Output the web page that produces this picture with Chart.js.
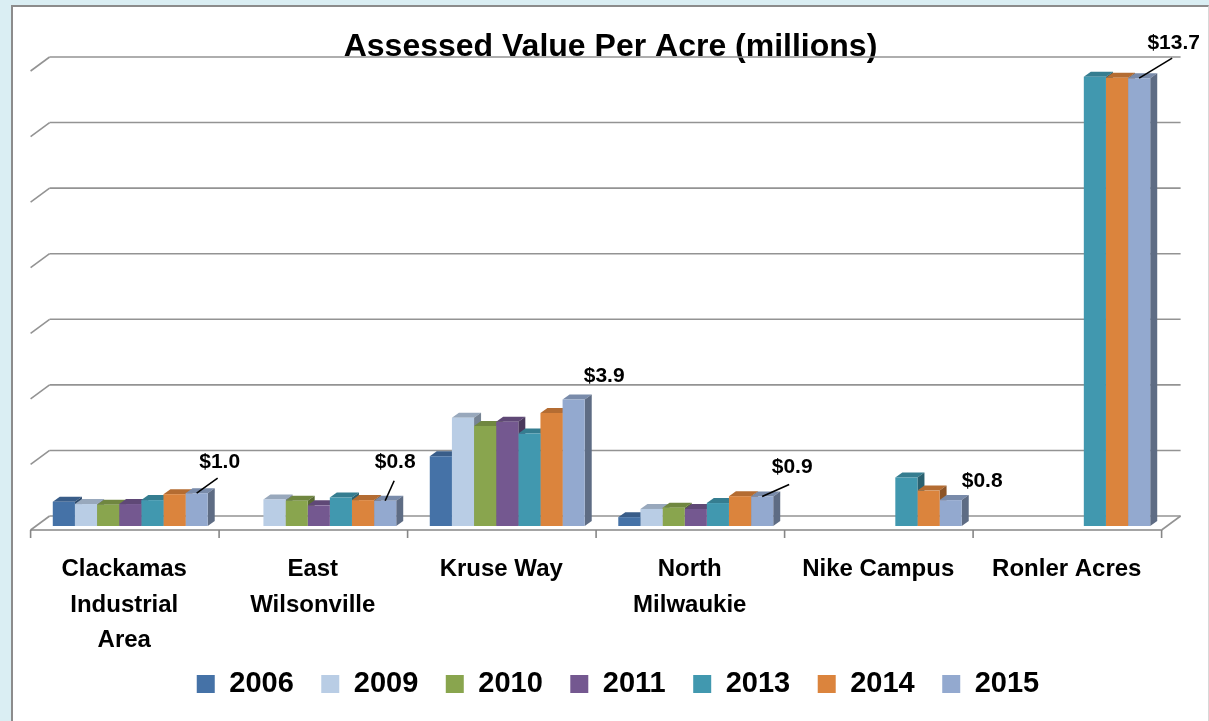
<!DOCTYPE html>
<html><head><meta charset="utf-8">
<script src="https://cdn.jsdelivr.net/npm/chart.js@4.4.1/dist/chart.umd.min.js"></script>
<style>
html,body{margin:0;padding:0;background:#DAEEF3;width:1209px;height:721px;overflow:hidden;}
#panel{position:absolute;left:11px;top:5px;width:1198px;height:720px;background:#fff;border:2px solid #8c8c8c;border-right:1px solid #d8d8d8;box-sizing:border-box;}
#c{position:absolute;left:0;top:0;}
</style></head><body>
<div id="panel"></div>
<canvas id="c" width="1209" height="721"></canvas>
<script>
// ---- data ----
const categories = [["Clackamas","Industrial","Area"], ["East","Wilsonville"], "Kruse Way", ["North","Milwaukie"], "Nike Campus", "Ronler Acres"];
const years = ["2006", "2009", "2010", "2011", "2013", "2014", "2015"];
const s2006 = [0.74, null, 2.13, 0.27, null, null];
const s2009 = [0.67, 0.81, 3.30, 0.52, null, null];
const s2010 = [0.65, 0.77, 3.05, 0.56, null, null];
const s2011 = [0.67, 0.63, 3.18, 0.52, null, null];
const s2013 = [0.79, 0.87, 2.82, 0.70, 1.48, 13.70];
const s2014 = [0.97, 0.79, 3.45, 0.91, 1.08, 13.67];
const s2015 = [1.00, 0.77, 3.86, 0.90, 0.79, 13.66];
const series = [s2006, s2009, s2010, s2011, s2013, s2014, s2015];
const yTicks = {min: 0, max: 14, step: 2};
const labelledSeries = 6; // data labels on the 2015 series

// ---- style ----
const colors = ["#4572A7", "#B9CDE5", "#89A54E", "#745890", "#4198AF", "#DB843D", "#93A9CF"];
const FONT = "'Liberation Sans', Arial, sans-serif";
const BAR_DX = 7, BAR_DY = 5;            // bar depth
const BACK = {dx: 13.6, dy: -10};        // back wall offset from bar plane
const FRONT = {dx: -5.4, dy: 4};         // floor front edge offset
// label placement relative to top-centre of the labelled bar: [textDx, textDy, leaderDx, leaderDy]
const labelPlace = [[23, -31, 21, -15], [10, -39, 9, -20], [30.5, -23, null, null], [30, -29, 27, -12], [31.5, -19, null, null], [34.5, -35, 33, -20]];

function shade(hex, f) {
  const n = parseInt(hex.slice(1), 16);
  const r = Math.round(((n >> 16) & 255) * f), g = Math.round(((n >> 8) & 255) * f), b = Math.round((n & 255) * f);
  return `rgb(${r},${g},${b})`;
}
function line(ctx, x1, y1, x2, y2) { ctx.beginPath(); ctx.moveTo(x1, y1); ctx.lineTo(x2, y2); ctx.stroke(); }

const threeD = {
  id: 'threeD',
  afterLayout(chart) {
    if (chart.legend) { chart.legend.left += 16.5; chart.legend.right += 16.5; }
    if (chart.titleBlock) { chart.titleBlock.left += 9; chart.titleBlock.right += 9; }
    // let the multi-line category labels run past the axis box (no clipping)
    chart.scales.x.bottom = chart.height;
  },
  beforeDatasetsDraw(chart) {
    const {ctx, chartArea: ca, scales: {x, y}} = chart;
    ctx.save();
    ctx.strokeStyle = '#939393';
    ctx.lineWidth = 1.6;
    for (let v = yTicks.min; v <= yTicks.max; v += yTicks.step) {
      const py = y.getPixelForValue(v);
      line(ctx, ca.left + BACK.dx, py + BACK.dy, ca.right + BACK.dx, py + BACK.dy);
      line(ctx, ca.left + BACK.dx, py + BACK.dy, ca.left + FRONT.dx, py + FRONT.dy);
    }
    const p0 = y.getPixelForValue(0);
    line(ctx, ca.right + FRONT.dx, p0 + FRONT.dy, ca.right + BACK.dx, p0 + BACK.dy);
    ctx.strokeStyle = '#868686';
    line(ctx, ca.left + FRONT.dx, p0 + FRONT.dy, ca.right + FRONT.dx, p0 + FRONT.dy);
    const n = categories.length;
    for (let i = 0; i <= n; i++) {
      const bx = ca.left + i * ca.width / n + FRONT.dx;
      line(ctx, bx, p0 + FRONT.dy, bx, p0 + FRONT.dy + 8);
    }
    // top and side faces, left to right
    for (let j = 0; j < n; j++) {
      for (let d = 0; d < series.length; d++) {
        if (series[d][j] == null) continue;
        const el = chart.getDatasetMeta(d).data[j];
        const {x: cx, y: top, base, width} = el.getProps(['x', 'y', 'base', 'width'], true);
        const l = cx - width / 2, r = cx + width / 2;
        ctx.fillStyle = shade(colors[d], 0.82);
        ctx.beginPath();
        ctx.moveTo(l, top); ctx.lineTo(l + BAR_DX, top - BAR_DY); ctx.lineTo(r + BAR_DX, top - BAR_DY); ctx.lineTo(r, top);
        ctx.closePath(); ctx.fill();
        ctx.fillStyle = shade(colors[d], 0.64);
        ctx.beginPath();
        ctx.moveTo(r, top); ctx.lineTo(r + BAR_DX, top - BAR_DY); ctx.lineTo(r + BAR_DX, base - BAR_DY); ctx.lineTo(r, base);
        ctx.closePath(); ctx.fill();
      }
    }
    ctx.restore();
  },
  afterDatasetsDraw(chart) {
    const {ctx} = chart;
    const meta = chart.getDatasetMeta(labelledSeries);
    ctx.save();
    ctx.font = `bold 21px ${FONT}`;
    ctx.fillStyle = '#000';
    ctx.strokeStyle = '#000';
    ctx.lineWidth = 1.6;
    ctx.textAlign = 'center';
    ctx.textBaseline = 'middle';
    meta.data.forEach((el, j) => {
      const val = series[labelledSeries][j];
      if (val == null) return;
      const {x: cx, y: top} = el.getProps(['x', 'y'], true);
      const [tdx, tdy, ldx, ldy] = labelPlace[j];
      if (ldx != null) line(ctx, cx, top, cx + ldx, top + ldy);
      ctx.fillText('$' + val.toFixed(1), cx + tdx, top + tdy);
    });
    ctx.restore();
  }
};

new Chart(document.getElementById('c'), {
  type: 'bar',
  data: {
    labels: categories,
    datasets: years.map((yr, i) => ({label: yr, data: series[i], backgroundColor: colors[i], borderWidth: 0}))
  },
  options: {
    responsive: false,
    animation: false,
    devicePixelRatio: 1,
    layout: {padding: {left: 36, right: 42, top: 0, bottom: 12.5}},
    datasets: {bar: {categoryPercentage: 0.822, barPercentage: 1}},
    scales: {
      x: {
        grid: {display: false, drawTicks: false},
        border: {display: false},
        ticks: {padding: 26, labelOffset: -6, color: '#000', maxRotation: 0, autoSkip: false,
                font: {family: FONT, size: 24, weight: 'bold', lineHeight: 1.48}},
        afterFit(s) { s.height = 116; }
      },
      y: {display: false, min: yTicks.min, max: yTicks.max, ticks: {stepSize: yTicks.step}}
    },
    plugins: {
      title: {display: true, text: 'Assessed Value Per Acre (millions)', color: '#000',
              font: {family: FONT, size: 32, weight: 'bold'}, padding: {top: 28, bottom: 0.6}},
      legend: {position: 'bottom',
               labels: {boxWidth: 18, boxHeight: 18, padding: 27.5, color: '#000',
                        font: {family: FONT, size: 29, weight: 'bold'}}},
      tooltip: {enabled: false}
    }
  },
  plugins: [threeD]
});
</script>
</body></html>
